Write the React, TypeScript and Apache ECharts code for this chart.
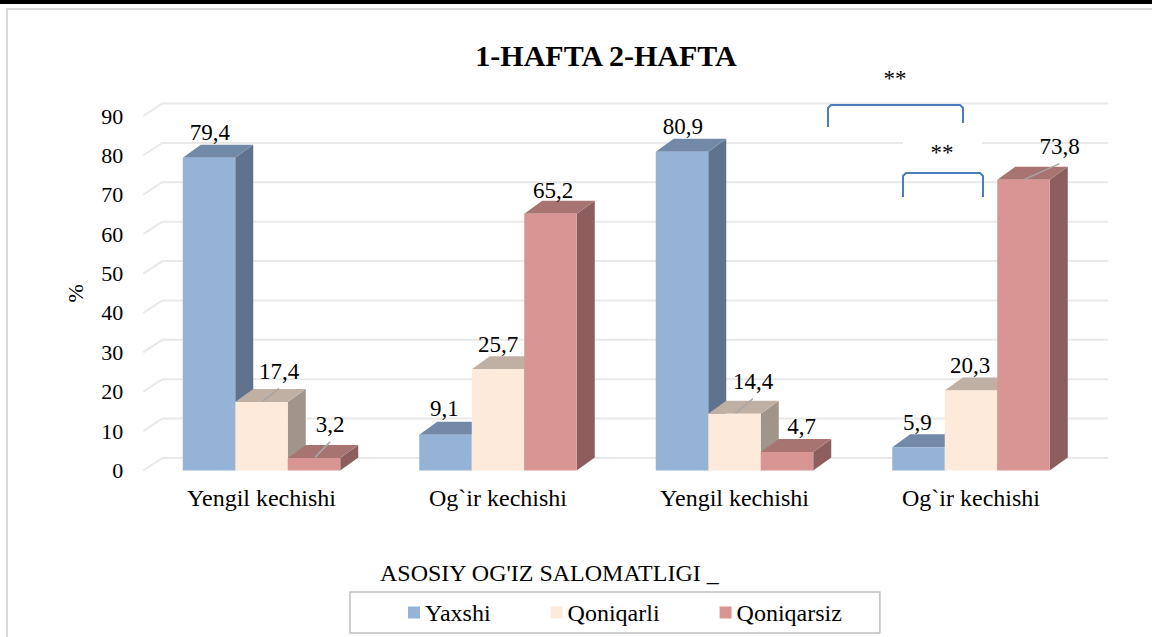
import React, { useEffect, useRef } from "react";
import * as echarts from "echarts";

// ---------- data ----------
const CATEGORIES = ["Yengil kechishi", "Og`ir kechishi", "Yengil kechishi", "Og`ir kechishi"];
const SERIES_NAMES = ["Yaxshi", "Qoniqarli", "Qoniqarsiz"];
const YAXSHI = [79.4, 9.1, 80.9, 5.9];
const QONIQARLI = [17.4, 25.7, 14.4, 20.3];
const QONIQARSIZ = [3.2, 65.2, 4.7, 73.8];
const Y_TICKS = [0, 10, 20, 30, 40, 50, 60, 70, 80, 90];
const TITLE = "1-HAFTA 2-HAFTA";
const LEGEND_TITLE = "ASOSIY OG'IZ SALOMATLIGI _";
const Y_NAME = "%";
const SIGNIF = ["**", "**"];

// ---------- styles / layout ----------
const FONT = "Liberation Serif";
const FRONT = ["#95b3d7", "#fdeada", "#d99594"];
const TOPC = ["#7289a8", "#c0b0a3", "#a87471"];
const SIDE = ["#60738e", "#a1958b", "#8c5f5e"];
const BAR_FRACTION = 0.222;
const BDX = 18;
const BDY = -13;
const GDX = 19;
const GDY = -12.5;
// label nudges relative to bar front-top centre: [series][group] -> [dx, dy, leader line]
const LABEL_NUDGE: [number, number, boolean][][] = [
  [[1, -25, false], [-1, -26, false], [1, -25, false], [-1, -25, false]],
  [[17.5, -30.5, true], [0, -24.5, false], [18.5, -32.3, true], [-1, -25, false]],
  [[16, -33, true], [2.5, -23.6, false], [14.7, -25, false], [36, -33.2, true]],
];

const SERIES_VALUES = [YAXSHI, QONIQARLI, QONIQARSIZ];

function fmt(v: number) {
  return v.toFixed(1).replace(".", ",");
}

function txt(text: string, x: number, y: number, size: number, align = "center", bold = false) {
  const style: any = {
    text,
    x,
    y,
    fill: "#000",
    fontSize: size,
    fontFamily: FONT,
    align,
    verticalAlign: "middle",
  };
  if (bold) style.fontWeight = "bold";
  return { type: "text", z: 10, style };
}

export default function App() {
  const ref = useRef<HTMLDivElement>(null);

  useEffect(() => {
    if (!ref.current) return;
    const chart = echarts.init(ref.current, undefined, { renderer: "svg" });

    const barSeries = SERIES_NAMES.map((name, k) => ({
      name,
      type: "custom",
      z: 3,
      clip: false,
      itemStyle: { color: FRONT[k] },
      data: SERIES_VALUES[k].map((v, i) => [i, v]),
      renderItem: (params: any, api: any) => {
        const gi = api.value(0);
        const v = api.value(1);
        const base = api.coord([gi, 0]);
        const top = api.coord([gi, v]);
        const band = api.size([1, 0])[0];
        const bw = band * BAR_FRACTION;
        const x0 = base[0] + (k - 1.5) * bw;
        const x1 = x0 + bw;
        const yb = base[1];
        const yt = top[1];
        const cx = (x0 + x1) / 2;
        const [ndx, ndy, leader] = LABEL_NUDGE[k][gi];
        const lx = cx + ndx;
        const ly = yt + ndy;
        const children: any[] = [
          {
            type: "polygon",
            shape: { points: [[x1, yt], [x1 + BDX, yt + BDY], [x1 + BDX, yb + BDY], [x1, yb]] },
            style: { fill: SIDE[k] },
          },
          {
            type: "polygon",
            shape: { points: [[x0, yt], [x0 + BDX, yt + BDY], [x1 + BDX, yt + BDY], [x1, yt]] },
            style: { fill: TOPC[k] },
          },
          {
            type: "rect",
            shape: { x: x0, y: yt, width: bw, height: yb - yt },
            style: { fill: FRONT[k] },
          },
        ];
        if (leader) {
          children.push({
            type: "line",
            z2: 50,
            shape: { x1: cx + 1, y1: yt - 0.5, x2: lx, y2: ly + 17 },
            style: { stroke: "#a6a6a6", lineWidth: 1.5 },
          });
        }
        const t: any = txt(fmt(v), lx, ly, 23);
        delete t.z;
        t.z2 = 100;
        children.push(t);
        return { type: "group", children };
      },
    }));

    const gridSeries = {
      name: "grid",
      type: "custom",
      z: 1,
      clip: false,
      silent: true,
      data: Y_TICKS.map((t) => [0, t]),
      renderItem: (params: any, api: any) => {
        const cs = params.coordSys;
        const y = api.coord([0, api.value(1)])[1];
        const xa = cs.x;
        const xb = cs.x + cs.width;
        return {
          type: "polyline",
          shape: { points: [[xa, y], [xa + GDX, y + GDY], [xb + GDX, y + GDY]] },
          style: { stroke: "#e9e9e9", lineWidth: 2, fill: "none" },
        };
      },
    };

    const option: any = {
      animation: false,
      grid: { left: 143.25, top: 116, width: 946, height: 354.5 },
      xAxis: {
        type: "category",
        data: CATEGORIES,
        axisLine: { show: false },
        axisTick: { show: false },
        splitLine: { show: false },
        axisLabel: { fontSize: 24, fontFamily: FONT, color: "#000", margin: 15, interval: 0 },
      },
      yAxis: {
        type: "value",
        min: 0,
        max: 90,
        interval: 10,
        name: Y_NAME,
        nameLocation: "middle",
        nameRotate: 90,
        nameGap: 57,
        nameTextStyle: { fontSize: 22, fontFamily: FONT, color: "#000" },
        axisLine: { show: false },
        axisTick: { show: false },
        splitLine: { show: false },
        axisLabel: { fontSize: 22, fontFamily: FONT, color: "#000", margin: 20 },
      },
      legend: {
        left: 350,
        top: 592,
        data: SERIES_NAMES.map((n, i) => ({ name: n, itemStyle: { color: FRONT[i] } })),
        icon: "rect",
        itemWidth: 12,
        itemHeight: 12,
        itemGap: 60,
        padding: [8, 38, 8, 58],
        borderColor: "#bfbfbf",
        borderWidth: 1.5,
        textStyle: { fontSize: 24, fontFamily: FONT, color: "#000", lineHeight: 25 },
      },
      graphic: [
        { type: "rect", z: 0, shape: { x: 0, y: 0, width: 1152, height: 4 }, style: { fill: "#000" } },
        {
          type: "rect",
          z: 0,
          shape: { x: 7, y: 9, width: 1160, height: 640 },
          style: { fill: "none", stroke: "#d9d9d9", lineWidth: 2 },
        },
        txt(TITLE, 606, 55, 30, "center", true),
        txt(LEGEND_TITLE, 380, 573, 24, "left"),
        {
          type: "polyline",
          z: 10,
          shape: { points: [[828, 127], [828, 108], [831, 105], [960, 105], [963, 108], [963, 123]] },
          style: { stroke: "#4a7ebb", lineWidth: 2, fill: "none" },
        },
        txt(SIGNIF[0], 895, 78, 23),
        { type: "rect", z: 5, shape: { x: 903, y: 132, width: 79, height: 36 }, style: { fill: "#fff" } },
        txt(SIGNIF[1], 942, 152, 23),
        {
          type: "polyline",
          z: 10,
          shape: { points: [[903, 197], [903, 176], [906, 173], [980, 173], [983, 176], [983, 197]] },
          style: { stroke: "#4a7ebb", lineWidth: 2, fill: "none" },
        },
      ],
      series: [gridSeries, ...barSeries],
    };

    chart.setOption(option);
    return () => chart.dispose();
  }, []);

  return (
    <div
      ref={ref}
      style={{ position: "fixed", left: 0, top: 0, width: 1152, height: 637, background: "#fff" }}
    />
  );
}
